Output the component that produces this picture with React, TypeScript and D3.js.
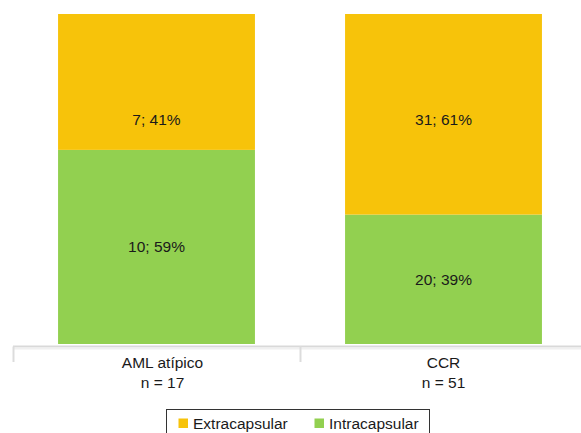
import React, { useEffect, useRef } from 'react';
import * as d3 from 'd3';

const categories = ['AML atípico', 'CCR'];
const sampleSizes = ['n = 17', 'n = 51'];
const intracapsular = [10, 20];
const extracapsular = [7, 31];
const seriesNames = ['Extracapsular', 'Intracapsular'];

const COLORS: Record<string, string> = {
  Extracapsular: '#F7C30A',
  Intracapsular: '#92D050',
};

const width = 581;
const height = 433;

export default function App() {
  const svgRef = useRef<SVGSVGElement>(null);

  useEffect(() => {
    if (!svgRef.current) return;
    const svg = d3.select(svgRef.current);
    svg.selectAll('*').remove();

    const font = '"Liberation Sans", Arial, Helvetica, sans-serif';
    const fs = '15.5px';

    const xScale = d3.scaleBand<string>().domain(categories).range([13, 587]).padding(0);
    const yScale = d3.scaleLinear().domain([0, 1]).range([344, 14]);
    const barW = xScale.bandwidth() * 0.686;

    const rows = categories.map((c, i) => {
      const total = intracapsular[i] + extracapsular[i];
      return {
        category: c,
        n: sampleSizes[i],
        intra: intracapsular[i],
        extra: extracapsular[i],
        pIntra: intracapsular[i] / total,
        pExtra: extracapsular[i] / total,
      };
    });

    // axis line + ticks
    const axisY = 346.5;
    svg
      .append('line')
      .attr('x1', 13)
      .attr('x2', width)
      .attr('y1', axisY)
      .attr('y2', axisY)
      .attr('stroke', '#d9d9d9')
      .attr('stroke-width', 2);
    svg
      .append('line')
      .attr('x1', 13)
      .attr('x2', width)
      .attr('y1', axisY + 2)
      .attr('y2', axisY + 2)
      .attr('stroke', '#f0f0f0')
      .attr('stroke-width', 2);

    const tickXs = categories.map((c) => xScale(c) as number);
    svg
      .selectAll('.tick')
      .data(tickXs)
      .enter()
      .append('line')
      .attr('x1', (d) => d + 0.5)
      .attr('x2', (d) => d + 0.5)
      .attr('y1', axisY)
      .attr('y2', 362)
      .attr('stroke', '#dcdcdc')
      .attr('stroke-width', 2);

    const g = svg.selectAll('.bar').data(rows).enter().append('g');

    // intracapsular (bottom)
    g.append('rect')
      .attr('x', (d) => (xScale(d.category) as number) + (xScale.bandwidth() - barW) / 2)
      .attr('y', (d) => yScale(d.pIntra))
      .attr('width', barW)
      .attr('height', (d) => yScale(0) - yScale(d.pIntra))
      .attr('fill', COLORS.Intracapsular);

    // extracapsular (top)
    g.append('rect')
      .attr('x', (d) => (xScale(d.category) as number) + (xScale.bandwidth() - barW) / 2)
      .attr('y', yScale(1))
      .attr('width', barW)
      .attr('height', (d) => yScale(d.pIntra) - yScale(1))
      .attr('fill', COLORS.Extracapsular);

    const cx = (d: any) => (xScale(d.category) as number) + xScale.bandwidth() / 2;

    g.append('text')
      .attr('x', cx)
      .attr('y', (d) => yScale(d.pIntra / 2))
      .attr('dy', '0.35em')
      .attr('text-anchor', 'middle')
      .style('font-family', font)
      .style('font-size', fs)
      .style('fill', '#1a1a1a')
      .text((d) => `${d.intra}; ${Math.round(d.pIntra * 100)}%`);

    g.append('text')
      .attr('x', cx)
      .attr('y', (d) => yScale(Math.min(d.pIntra + d.pExtra / 2, 0.68)))
      .attr('dy', '0.35em')
      .attr('text-anchor', 'middle')
      .style('font-family', font)
      .style('font-size', fs)
      .style('fill', '#1a1a1a')
      .text((d) => `${d.extra}; ${Math.round(d.pExtra * 100)}%`);

    // category labels
    g.append('text')
      .attr('x', (d, i) => cx(d) + (i === 0 ? 6 : 0))
      .attr('y', 367.5)
      .attr('text-anchor', 'middle')
      .style('font-family', font)
      .style('font-size', fs)
      .style('fill', '#1a1a1a')
      .text((d) => d.category);

    g.append('text')
      .attr('x', (d, i) => cx(d) + (i === 0 ? 6 : 0))
      .attr('y', 388)
      .attr('text-anchor', 'middle')
      .style('font-family', font)
      .style('font-size', fs)
      .style('fill', '#1a1a1a')
      .text((d) => d.n);

    // legend
    const legend = svg.append('g').attr('transform', 'translate(166.5, 409.5)');
    legend
      .append('rect')
      .attr('width', 263)
      .attr('height', 40)
      .attr('fill', 'white')
      .attr('stroke', '#333')
      .attr('stroke-width', 1);

    const legendOffsets = [12, 148];
    const items = legend
      .selectAll('.li')
      .data(seriesNames)
      .enter()
      .append('g')
      .attr('transform', (_, i) => `translate(${legendOffsets[i]}, 9)`);
    items
      .append('rect')
      .attr('width', 9.5)
      .attr('height', 9.5)
      .attr('fill', (d) => COLORS[d]);
    items
      .append('text')
      .attr('x', 14.5)
      .attr('y', 10.5)
      .style('font-family', font)
      .style('font-size', fs)
      .style('fill', '#1a1a1a')
      .text((d) => d);
  }, []);

  return (
    <svg
      ref={svgRef}
      width={width}
      height={height}
      style={{ position: 'fixed', left: 0, top: 0, background: 'white' }}
    />
  );
}
